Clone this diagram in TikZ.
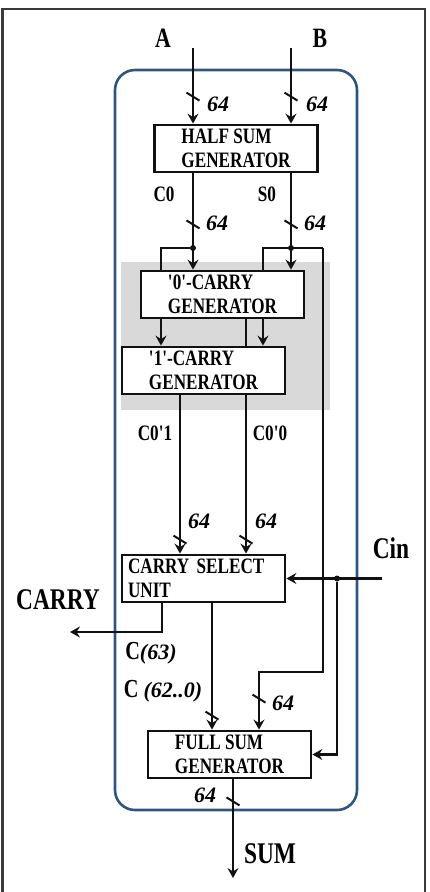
\documentclass[tikz,border=0pt]{standalone}
\usepackage{fontspec}
\setmainfont{Liberation Serif}
\newfontfamily\narrowfont[FakeStretch=0.78]{Liberation Serif}
\usetikzlibrary{positioning,arrows.meta,decorations.markings,calc}
\definecolor{ink}      {HTML}{111111}
\definecolor{rim}      {HTML}{2F5582}
\definecolor{frameink} {HTML}{3A3A3A}
\colorlet{greyfill}{black!15}
\newcommand\bitsfont{\normalfont\bfseries\itshape\fontsize{22}{24}\selectfont}
\tikzset{
  % --- nodes
  unit/.style = {draw=ink, line width=2.8pt, fill=white, minimum width=163pt,
                 minimum height=47pt, inner sep=0pt, align=left,
                 font=\narrowfont\bfseries\fontsize{22}{24}\selectfont},
  sig/.style  = {inner sep=0pt, font=\narrowfont\bfseries\fontsize{22}{24}\selectfont},
  port/.style = {inner sep=0pt, font=\narrowfont\bfseries\fontsize{30}{32}\selectfont},
  bits/.style = {inner sep=0pt, font=\bitsfont},
  jn/.style   = {circle, fill=ink, inner sep=0pt, minimum size=6pt},
  % --- edges
  w/.style    = {line width=2.2pt, draw=ink},
  e/.style    = {w, -{Stealth[length=10pt,width=11pt,inset=3.5pt]}},
  bus/.style  = {postaction=decorate, decoration={markings, mark=at position #1 with
                 {\draw[-, line width=2pt] (-4pt,-6.5pt) -- (4pt,6.5pt);}}},
}

\begin{document}
\begin{tikzpicture}[x=1pt,y=-1pt]
  \useasboundingbox (0,0) rectangle (429,892);
  \draw[frameink, line width=2.2pt] (2.5,892) -- (2.5,9) -- (425,9) -- (425,892);
  \draw[rim, line width=2.6pt, rounded corners=20pt] (115,70) rectangle (357,810);
  \fill[greyfill] (121,262) rectangle (330,410);

  % --- blocks
  \node[unit] (hsg) at (236,148.5) {HALF SUM\\GENERATOR};
  \node[unit] (cg0) at (222.5,294.5) {'0'-CARRY\\GENERATOR};
  \node[unit] (cg1) at (203.5,370.5) {'1'-CARRY\\GENERATOR};
  \node[unit, text width=151pt] (csu) at (203.5,578.5) {CARRY SELECT\\UNIT};
  \node[unit] (fsg) at (229.5,754.5) {FULL SUM\\GENERATOR};

  % --- inputs
  \coordinate (ain) at (193,48);
  \coordinate (bin) at (291,48);
  \node[port, font=\narrowfont\bfseries\fontsize{28}{30}\selectfont] (a) at (163,38) {A};
  \node[port, font=\narrowfont\bfseries\fontsize{28}{30}\selectfont] (b) at (320,38) {B};
  \draw[e, bus=-27pt] (ain) -- (ain |- hsg.north);
  \draw[e, bus=-27pt] (bin) -- (bin |- hsg.north);
  \node[bits] (na) at (218,104) {64};
  \node[bits] (nb) at (317,104) {64};

  % --- half sums
  \node[sig] (c0) at (164,194) {C0};
  \node[sig] (s0) at (267,194) {S0};
  \draw[e, bus=51pt] (hsg.south -| ain) -- (cg0.north -| ain);
  \draw[e, bus=51pt] (hsg.south -| bin) -- (cg0.north -| bin);
  \node[bits] (nc0) at (217,223) {64};
  \node[bits] (ns0) at (315,223) {64};
  \node[jn] (c0j) at (193,248) {};
  \node[jn] (s0j) at (291,248) {};
  \coordinate (c0l) at (161,248);
  \coordinate (s0l) at (263,248);
  \coordinate (s0r) at (323,248);
  \coordinate (s0k) at (323,672);
  \coordinate (s0f) at (259,672);
  \draw[w] (c0j) -- (c0l) -- (c0l |- cg0.north);
  \draw[w] (s0l |- cg0.north) -- (s0l) -- (s0r);
  \draw[e] (c0l |- cg0.south) -- (c0l |- cg1.north);
  \draw[e] (s0l |- cg0.south) -- (s0l |- cg1.north);
  \draw[e, bus=-31pt] (s0r) -- (s0k) -- (s0f) -- (s0f |- fsg.north);
  \node[bits] (ns0f) at (283,703) {64};

  % --- carries
  \coordinate (c01) at (180,0);
  \coordinate (c00) at (246,0);
  \draw[w] (c00 |- cg0.south) -- (c00 |- cg1.north);
  \draw[e, bus=-14pt] (c01 |- cg1.south) -- (c01 |- csu.north);
  \draw[e, bus=-14pt] (c00 |- cg1.south) -- (c00 |- csu.north);
  \node[sig] (lc01) at (155,433) {C0'1};
  \node[sig] (lc00) at (270,433) {C0'0};
  \node[bits] (nc01) at (199,521) {64};
  \node[bits] (nc00) at (266,521) {64};

  % --- carry in
  \coordinate (cin) at (382,578.5);
  \node[port] (lcin) at (391,548) {Cin};
  \node[jn] (cinj) at (337,578.5) {};
  \draw[e] (cin) -- (csu.east);
  \draw[e] (cinj) |- (fsg.east);

  % --- carry out
  \coordinate (cy) at (162,632);
  \coordinate (cyout) at (70,632);
  \draw[e] (csu.south -| cy) -- (cy) -- (cyout);
  \node[port] (lcy) at (58,600) {CARRY};
  \node[port, font=\narrowfont\bfseries\fontsize{26}{28}\selectfont] (lc63) at (151,653) {C{\bitsfont(63)}};
  \node[port, font=\narrowfont\bfseries\fontsize{26}{28}\selectfont] (lc62) at (163,691) {C {\bitsfont(62..0)}};

  % --- sum
  \coordinate (cbus) at (212,0);
  \coordinate (sout) at (233,878);
  \draw[e, bus=-14pt] (csu.south -| cbus) -- (fsg.north -| cbus);
  \draw[e, bus=22pt] (fsg.south -| sout) -- (sout);
  \node[bits] (nsum) at (205,795) {64};
  \node[port] (lsum) at (270,854) {SUM};
\end{tikzpicture}
\end{document}
